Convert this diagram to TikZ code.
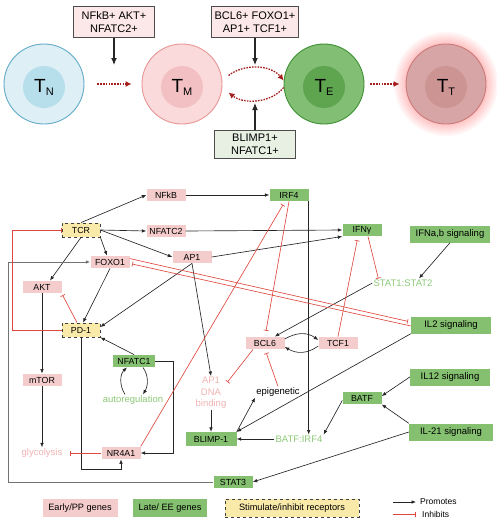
\documentclass[tikz,border=0pt]{standalone}
\usepackage{fontspec}
\setmainfont{Liberation Sans}
\usetikzlibrary{positioning,arrows.meta,calc}
\definecolor{earlyfill}{RGB}{245,204,204}
\definecolor{latefill}{RGB}{132,192,112}
\definecolor{recfill}{RGB}{250,234,170}
\definecolor{earlytext}{RGB}{240,178,178}
\definecolor{latetext}{RGB}{140,200,118}
\definecolor{inhred}{RGB}{222,72,62}
\definecolor{celldot}{RGB}{165,30,30}
\definecolor{topearly}{RGB}{252,232,232}
\definecolor{toplate}{RGB}{232,240,228}
\definecolor{tnfill}{RGB}{222,239,246}
\definecolor{tnline}{RGB}{100,170,200}
\definecolor{tnnuc}{RGB}{182,222,235}
\definecolor{tmfill}{RGB}{250,218,218}
\definecolor{tmline}{RGB}{232,150,150}
\definecolor{tmnuc}{RGB}{242,192,194}
\definecolor{tefill}{RGB}{130,190,115}
\definecolor{teline}{RGB}{60,145,50}
\definecolor{tenuc}{RGB}{95,165,80}
\definecolor{ttfill}{RGB}{215,165,165}
\definecolor{ttline}{RGB}{205,120,120}
\definecolor{ttnuc}{RGB}{205,148,148}
\newcommand{\celllab}[1]{{\fontsize{19}{20}\selectfont T}\raisebox{-3pt}{\fontsize{11}{12}\selectfont #1}}

\begin{document}
\begin{tikzpicture}[x=1pt,y=-1pt,
  gene/.style={inner sep=0pt,minimum width=39pt,minimum height=12.5pt,font=\fontsize{8.8}{10}\selectfont},
  early/.style={gene,fill=earlyfill},
  late/.style={gene,fill=latefill},
  recep/.style={gene,fill=recfill,draw=black!75,dashed,line width=0.8pt,minimum width=38pt,minimum height=14pt},
  sig/.style={late,minimum width=80pt,minimum height=17pt,font=\fontsize{9.5}{11}\selectfont},
  freetxt/.style={inner sep=1pt,font=\fontsize{9.5}{11.5}\selectfont},
  act/.style={draw=black!85,line width=0.65pt,-{Latex[length=4.5pt,width=3.6pt]}},
  inh/.style={draw=inhred,line width=0.65pt,-{Bar[width=5pt]}},
  cell/.style={circle,minimum size=80pt,inner sep=0pt,line width=0.9pt},
  nucleus/.style={circle,minimum size=42pt,inner sep=0pt},
  topbox/.style={draw=black!70,line width=0.8pt,align=center,inner sep=0pt,minimum height=31pt,font=\fontsize{11}{13}\selectfont},
  toparr/.style={draw=black!85,line width=1.1pt,-{Latex[length=7pt,width=6pt]}},
  celltr/.style={draw=celldot,line width=1.3pt,dash pattern=on 1.6pt off 1.2pt,-{Latex[length=6pt,width=6pt]}}]
\useasboundingbox (0,0) rectangle (497,528);

% cells
\foreach \r in {52,50,...,42}
  \fill[red,opacity=0.04] (446,84) circle (\r pt);
\node[cell,fill=tnfill,draw=tnline] (tn) at (44,84) {};
\node[nucleus,fill=tnnuc] (tnn) at (44,87) {};
\node (tnl) at (tnn) {\celllab{N}};
\node[cell,fill=tmfill,draw=tmline] (tm) at (182,84) {};
\node[nucleus,fill=tmnuc] (tmn) at (182,87) {};
\node (tml) at (tmn) {\celllab{M}};
\node[cell,fill=tefill,draw=teline] (te) at (324,84) {};
\node[nucleus,fill=tenuc] (ten) at (324,87) {};
\node (tel) at (ten) {\celllab{E}};
\node[cell,fill=ttfill,draw=ttline] (tt) at (446,84) {};
\node[nucleus,fill=ttnuc] (ttn) at (446,87) {};
\node (ttl) at (ttn) {\celllab{T}};

\draw[celltr,shorten <=13pt,shorten >=10pt] (tn) -- (tm);
\draw[celltr,shorten <=6pt,shorten >=6pt] (te) -- (tt);
\draw[celltr,shorten <=8pt] (tm.5) .. controls (243,64) and (270,64) .. (te.175);
\draw[celltr,shorten >=8pt] (te.185) .. controls (270,104) and (243,104) .. (tm.355);

% top boxes
\node[topbox,fill=topearly,minimum width=81pt] (topa) at (114,22) {NFkB+ AKT+\\NFATC2+};
\node[topbox,fill=topearly,minimum width=87pt] (topb) at (255,22) {BCL6+ FOXO1+\\AP1+ TCF1+};
\node[topbox,fill=toplate,minimum width=81pt,minimum height=28pt] (topc) at (255,144) {BLIMP1+\\NFATC1+};
\coordinate (topaend) at (114,65);
\coordinate (topbend) at (255,65);
\coordinate (topcend) at (255,103);
\draw[toparr] (topa.south) -- (topaend);
\draw[toparr] (topb.south) -- (topbend);
\draw[toparr] (topc.north) -- (topcend);

% network nodes
\node[early] (nfkb) at (166,195) {NFkB};
\node[recep] (tcr) at (81,230) {TCR};
\node[early] (nfatc2) at (166,231) {NFATC2};
\node[early] (ap1) at (192,257) {AP1};
\node[early] (foxo1) at (110,262) {FOXO1};
\node[early] (akt) at (42,287) {AKT};
\node[late] (irf4) at (289,195) {IRF4};
\node[late] (ifng) at (362,230) {IFNγ};
\node[sig] (ifnab) at (450,234) {IFNa,b signaling};
\node[freetxt,text=latetext] (stat12) at (403,283) {STAT1:STAT2};
\node[recep] (pd1) at (81,330) {PD-1};
\node[late,minimum width=42pt] (nfatc1) at (134,361) {NFATC1};
\node[freetxt,text=latetext] (autoreg) at (133,400) {autoregulation};
\node[early] (mtor) at (42,380) {mTOR};
\node[freetxt,text=earlytext,align=center] (ap1dna) at (211,393) {AP1\\DNA\\binding};
\node[early] (bcl6) at (265,343) {BCL6};
\node[early] (tcf1) at (338,343) {TCF1};
\node[sig] (il2) at (451,325) {IL2 signaling};
\node[sig] (il12) at (450,377) {IL12 signaling};
\node[freetxt] (epi) at (278,392) {epigenetic};
\node[late] (batf) at (362,398) {BATF};
\node[late,minimum width=51pt,minimum height=14pt] (blimp) at (211,439) {BLIMP-1};
\node[freetxt,text=latetext] (batfirf) at (299,439) {BATF:IRF4};
\node[sig,minimum width=84pt] (il21) at (451,432) {IL-21 signaling};
\node[freetxt,text=earlytext] (glyc) at (42,453) {glycolysis};
\node[early] (nr4a1) at (121,453) {NR4A1};
\node[late] (stat3) at (233,482) {STAT3};

% promotes
\draw[act] (tcr.north) -- (nfkb.west);
\draw[act] (tcr.east) -- (nfatc2.west);
\draw[act] (tcr.east) -- (ap1.west);
\draw[act] (tcr.south east) -- ([xshift=-3pt]foxo1.north);
\draw[act] (tcr.south) -- ([xshift=8pt]akt.north);
\draw[act] (nfkb.east) -- (irf4.west);
\draw[act] (nfatc2.east) -- (ifng.west);
\draw[act] (ap1.east) -- (ifng.south west);
\draw[act] (ap1.south) -- ([yshift=3pt]pd1.east);
\draw[act] (ap1.south) -- (ap1dna.north);
\draw[act] (foxo1.south) -- ([xshift=2pt]pd1.north);
\draw[act] (nfatc1.north) -- (pd1.south east);
\draw[act] ([xshift=-8pt]autoreg.north) .. controls (119,385) and (120,374) .. ([xshift=-7pt]nfatc1.south);
\draw[act] ([xshift=9pt]nfatc1.south) .. controls (149,376) and (148,386) .. ([xshift=10pt]autoreg.north);
\draw[act] (nfatc1.east) -- ++(18,0) |- (nr4a1.east);
\draw[act] (pd1.south) |- ([yshift=-10pt]nr4a1.south) -- (nr4a1.south);
\draw[act] (akt) -- (mtor);
\draw[act] (mtor) -- (glyc);
\draw[act] (irf4.south east) -- (irf4.south east |- batfirf.north);
\draw[act] (ifnab.south) -- ([xshift=16pt]stat12.north);
\draw[act] (stat12.west) -- ([xshift=-10pt]bcl6.north east);
\draw[act] ([yshift=4pt]bcl6.east) .. controls (297,332) and (307,332) .. ([yshift=3pt]tcf1.west);
\draw[act] ([yshift=-3pt]tcf1.west) .. controls (307,354) and (297,354) .. ([yshift=-4pt]bcl6.east);
\draw[act] (blimp.north east) -- (epi.south west);
\draw[act] (il2.south west) -- (blimp.north east);
\draw[act] (ap1dna.south) -- (blimp.north);
\draw[act] (batfirf.west) -- (blimp.east);
\draw[act] ([yshift=4pt]batf.south west) -- (batfirf.north east);
\draw[act] (il12.west) -- ([yshift=2pt]batf.east);
\draw[act] (il21.north west) -- (batf.south east);
\draw[act] (il21.west) -- (stat3.east);
\draw[act,draw=black!55,line width=1pt] (stat3.west) -- ++(-205,0) |- (foxo1.west);

% inhibits
\draw[inh,line width=0.9pt] (pd1.west) -- ++(-49,0) |- (tcr.west);
\draw[inh,shorten >=2pt] ([xshift=-4pt]pd1.north) -- (akt.south east);
\draw[inh,shorten >=6pt] (nr4a1.west) -- (glyc.east);
\draw[inh,shorten >=4pt] (nr4a1.north east) -- ([xshift=-4pt]irf4.south);
\draw[inh,shorten >=6pt] (irf4.south) -- (bcl6.north);
\draw[inh,shorten >=4pt] (tcf1.north) -- ([xshift=-4pt]ifng.south);
\draw[inh] ([xshift=6pt]ifng.south) -- ([xshift=6pt]stat12.north west);
\draw[inh] ([xshift=-12pt]bcl6.south) -- ([yshift=11pt]ap1dna.east);
\draw[inh,shorten >=4pt] (epi.north) -- (bcl6.south);
\draw[inh,shorten >=3pt] ([yshift=-3pt]foxo1.north east) -- ([yshift=3pt]il2.west);
\draw[inh] ([yshift=-1pt]il2.west) -- ([xshift=2.5pt,yshift=-2pt]foxo1.east);

% legend
\node[early,minimum width=75pt,minimum height=18pt,font=\fontsize{9.2}{11}\selectfont] (legearly) at (80,508) {Early/PP genes};
\node[late,minimum width=74pt,minimum height=18pt,font=\fontsize{9.2}{11}\selectfont] (leglate) at (170,508) {Late/ EE genes};
\node[recep,minimum width=134pt,minimum height=18pt,font=\fontsize{9.2}{11}\selectfont] (legrec) at (292,508) {Stimulate/inhibit receptors};
\coordinate (pa) at (393,502);
\coordinate (pb) at (416,502);
\coordinate (ia) at (393,514);
\coordinate (ib) at (416,514);
\draw[act] (pa) -- (pb);
\draw[inh] (ia) -- (ib);
\node[freetxt,anchor=west,font=\fontsize{8.5}{10}\selectfont] (legpro) at (419,502) {Promotes};
\node[freetxt,anchor=west,font=\fontsize{8.5}{10}\selectfont] (leginh) at (421,514) {Inhibits};
\end{tikzpicture}
\end{document}
